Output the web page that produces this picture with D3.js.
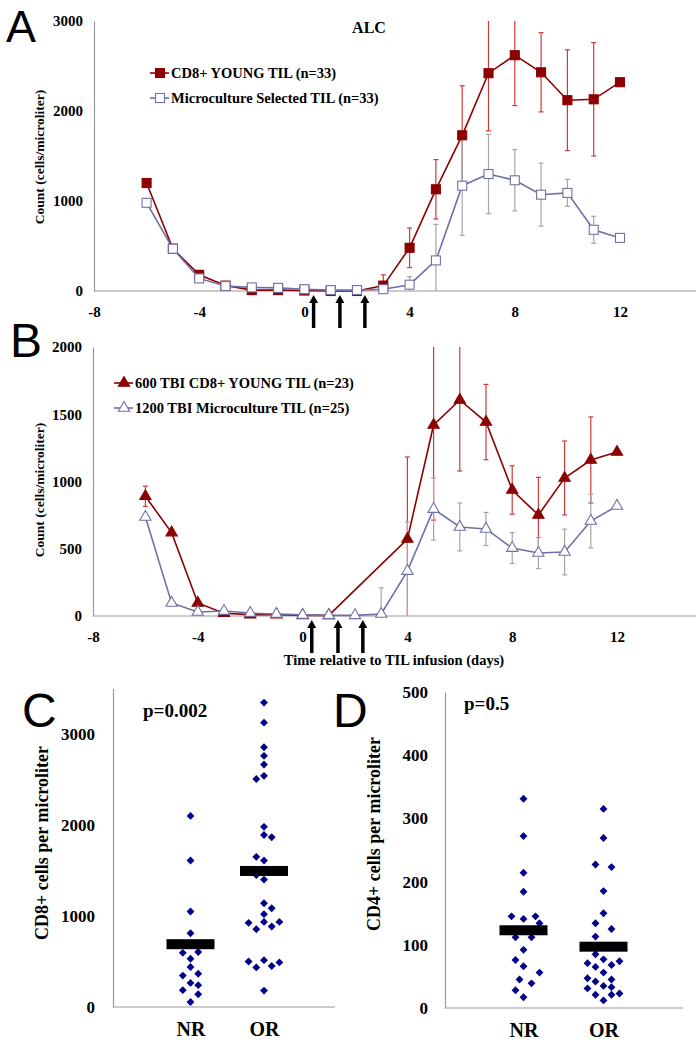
<!DOCTYPE html>
<html><head><meta charset="utf-8">
<script src="https://cdn.jsdelivr.net/npm/d3@7"></script>
<style>
html,body{margin:0;padding:0;background:#fff;}
svg{display:block;}
text{font-family:"Liberation Serif","Times New Roman",serif;font-weight:bold;fill:#000;}
.big{font-family:"Liberation Sans",Arial,sans-serif;font-weight:normal;}
</style></head>
<body>
<svg id="c" width="696" height="1050"></svg>
<script>
// ---------- DATA ----------
const daysAll = [-6,-5,-4,-3,-2,-1,0,1,2,3,4,5,6,7,8,9,10,11,12];
const xTicks = [-8,-4,0,4,8,12];
const arrowDays = [0.35,1.35,2.3];

// Panel A
const aRedLabel = "CD8+ YOUNG TIL (n=33)";
const aBlueLabel = "Microculture Selected TIL (n=33)";
const aRed    = [1200,470,180,60,10,10,5,0,0,60,480,1130,1730,2420,2620,2430,2120,2130,2320];
const aRedErr = [0,0,0,0,0,0,0,0,0,120,220,330,550,640,560,440,560,630,0];
const aBlue    = [980,470,140,55,40,35,20,10,10,20,70,340,1170,1300,1230,1070,1090,680,590];
const aBlueErr = [0,0,0,0,0,0,0,0,0,0,90,400,550,440,340,350,150,150,0];
const aYTicks = [0,1000,2000,3000];

// Panel B
const bRedLabel = "600 TBI CD8+ YOUNG TIL (n=23)";
const bBlueLabel = "1200 TBI Microculture TIL (n=25)";
const bRedDays = [-6,-5,-4,-3,-2,-1,0,1,4,5,6,7,8,9,10,11,12];
const bRed     = [890,620,97,20,10,10,5,5,572,1420,1606,1442,937,751,1026,1160,1219];
const bRedErr  = [75,0,0,0,0,0,0,0,610,707,528,280,180,280,275,320,0];
const bBlue    = [736,97,30,37,22,15,8,5,5,15,334,795,662,647,505,468,476,706,818];
const bBlueErr = [0,0,0,0,0,0,0,0,0,195,365,230,178,123,115,115,170,200,0];
const bYTicks = [0,500,1000,1500,2000];

// Panel C (CD8+ cells) value, dodge slot
const groups = ["NR","OR"];
const cNR     = [2100,1610,1050,810,595,605,530,440,365,345,265,240,185,140,55];
const cNRslot = [0,0,0,0,-1,1,0,0,1,-1,0,1,-1,1,0];
const cOR     = [3345,3125,2855,2760,2665,2505,2540,1980,1890,1865,1650,1610,1450,1400,1140,1085,1020,925,855,935,885,935,500,435,515,450,490,180];
const cORslot = [0,0,0,0,0,-1,0,0,0,1,-1,0,-1,0,0,1,0,-2,-1,0,1,2,-2,-1,0,1,2,0];
const cMedian = [690,1495];
const cYTicks = [0,1000,2000,3000];
const cP = "p=0.002";

// Panel D (CD4+ cells)
const dNR     = [331,272,214,184,145,141,145,134,112,112,92,76,66,56,45,39,28,17];
const dNRslot = [0,0,0,0,-1.5,0,1.5,2,-1,1,0,-1,0,2,-0.5,1,-1,0];
const dOR     = [315,269,227,223,185,150,134,125,113,85,77,71,68,74,65,56,47,45,42,35,31,33,21,23,21,12];
const dORslot = [0,0,-1,1,0,0,-1,1,-1,-1,0,-2,1,2,-1,0,-2,1,-1,0,-2,1,-1,2,1,0];
const dMedian = [123,97];
const dYTicks = [0,100,200,300,400,500];
const dP = "p=0.5";

// ---------- STYLE ----------
const RED = "#8b0000", RED_ERR = "#cc3a3a", BLUE = "#7070a8", GRAY_ERR = "#a6a6a6", AXIS = "#9a9a9a", NAVY = "#000088";
const fmt = d => String(d);

const svg = d3.select("#c");

function styleAxis(g, fs){
  g.select(".domain").attr("stroke", AXIS).attr("stroke-width",1.2);
  g.selectAll("text").style("font-size", fs+"px").style("font-family",'"Liberation Serif","Times New Roman",serif').style("font-weight","bold").attr("fill","#000");
}

function lineChart(opt){
  const x = d3.scaleLinear().domain([-8,15]).range([opt.left, opt.left + 23*opt.ux]);
  const y = d3.scaleLinear().domain([0, opt.ymax]).range([opt.y0, opt.ytop]);
  const g = svg.append("g");
  const ya = g.append("g").attr("transform",`translate(${x(-8)},0)`)
    .call(d3.axisLeft(y).tickValues(opt.yticks).tickSize(0).tickPadding(11).tickFormat(fmt));
  styleAxis(ya,15);
  const xa = g.append("g").attr("transform",`translate(0,${y(0)})`)
    .call(d3.axisBottom(x).tickValues(xTicks).tickSize(0).tickPadding(15).tickFormat(fmt));
  styleAxis(xa,15);
  xa.select(".domain").attr("d",`M${x(-8)},0H696`);

  function errs(days, vals, es, color){
    days.forEach((d,i)=>{
      const e = es[i]; if(!e) return;
      const hiV = vals[i]+e, loV = vals[i]-e;
      const hi = y(Math.min(hiV, opt.ymax)), lo = y(Math.max(loV,0));
      g.append("line").attr("x1",x(d)).attr("x2",x(d)).attr("y1",hi).attr("y2",lo).attr("stroke",color).attr("stroke-width",1.2);
      if(hiV<=opt.ymax) g.append("line").attr("x1",x(d)-2.5).attr("x2",x(d)+2.5).attr("y1",hi).attr("y2",hi).attr("stroke",color).attr("stroke-width",1.2);
      if(loV>=0) g.append("line").attr("x1",x(d)-2.5).attr("x2",x(d)+2.5).attr("y1",lo).attr("y2",lo).attr("stroke",color).attr("stroke-width",1.2);
    });
  }
  errs(opt.redDays, opt.red, opt.redErr, RED_ERR);
  errs(daysAll, opt.blue, opt.blueErr, GRAY_ERR);

  const line = d3.line().x(d=>x(d[0])).y(d=>y(d[1]));
  const redPts = opt.redDays.map((d,i)=>[d,opt.red[i]]);
  const bluePts = daysAll.map((d,i)=>[d,opt.blue[i]]);
  g.append("path").attr("d",line(redPts)).attr("fill","none").attr("stroke",RED).attr("stroke-width",1.6);
  opt.marker(g, redPts.map(p=>[x(p[0]),y(p[1])]), true);
  g.append("path").attr("d",line(bluePts)).attr("fill","none").attr("stroke",BLUE).attr("stroke-width",1.6);
  opt.marker(g, bluePts.map(p=>[x(p[0]),y(p[1])]), false);

  // arrows
  arrowDays.forEach(d=>{
    const ax = x(d), ty = y(0)+4;
    g.append("line").attr("x1",ax).attr("x2",ax).attr("y1",ty+6).attr("y2",ty+33).attr("stroke","#000").attr("stroke-width",3.5);
    g.append("path").attr("d",`M${ax},${ty}L${ax-4.5},${ty+8}L${ax+4.5},${ty+8}Z`).attr("fill","#000");
  });

  // legend
  [[opt.redLabel,true,opt.legY],[opt.blueLabel,false,opt.legY+25]].forEach(([lab,isRed,ly])=>{
    g.append("line").attr("x1",opt.legX).attr("x2",opt.legX+19).attr("y1",ly).attr("y2",ly).attr("stroke",isRed?RED:BLUE).attr("stroke-width",1.6);
    opt.marker(g, [[opt.legX+10, ly]], isRed);
    g.append("text").attr("x",opt.legX+21).attr("y",ly+5).style("font-size","14.5px").text(lab);
  });
  g.append("text").attr("transform",`translate(${opt.ylabX},${opt.ylabY}) rotate(-90)`).attr("text-anchor","middle").style("font-size","13.5px").text("Count (cells/microliter)");
  return {x,y};
}

function squares(g, pts, filled){
  g.selectAll(null).data(pts).enter().append("rect")
    .attr("x",d=>d[0]-4.5).attr("y",d=>d[1]-4.5).attr("width",9).attr("height",9)
    .attr("fill",filled?RED:"#fff").attr("stroke",filled?RED:BLUE).attr("stroke-width",1.1);
}
function triangles(g, pts, filled){
  const sym = d3.symbol().type(d3.symbolTriangle).size(55);
  g.selectAll(null).data(pts).enter().append("path")
    .attr("d",sym).attr("transform",d=>`translate(${d[0]},${d[1]})`)
    .attr("fill",filled?RED:"#fff").attr("stroke",filled?RED:BLUE).attr("stroke-width",1.1);
}

lineChart({left:94, ux:26.3, y0:291, ytop:21, ymax:3000, yticks:aYTicks,
  redDays:daysAll, red:aRed, redErr:aRedErr, blue:aBlue, blueErr:aBlueErr,
  marker:squares, redLabel:aRedLabel, blueLabel:aBlueLabel, legX:150, legY:73, ylabX:44, ylabY:157});

lineChart({left:93, ux:26.2, y0:616, ytop:347, ymax:2000, yticks:bYTicks,
  redDays:bRedDays, red:bRed, redErr:bRedErr, blue:bBlue, blueErr:bBlueErr,
  marker:triangles, redLabel:bRedLabel, blueLabel:bBlueLabel, legX:114, legY:383, ylabX:44, ylabY:490});

svg.append("text").attr("x",369).attr("y",33).attr("text-anchor","middle").style("font-size","16px").text("ALC");
svg.append("text").attr("x",394).attr("y",665).attr("text-anchor","middle").style("font-size","14.5px").text("Time relative to TIL infusion (days)");

// ---------- Scatter panels ----------
function scatter(opt){
  const x = d3.scalePoint().domain(groups).range(opt.xr);
  const y = d3.scaleLinear().domain([0,opt.ymax]).range([opt.y0,opt.ytop]);
  const g = svg.append("g");
  const ya = g.append("g").attr("transform",`translate(${opt.axL},0)`)
    .call(d3.axisLeft(y).tickValues(opt.yticks).tickSize(0).tickPadding(opt.pad).tickFormat(fmt));
  styleAxis(ya,17);
  const xa = g.append("g").attr("transform",`translate(0,${y(0)})`)
    .call(d3.axisBottom(x).tickSize(0).tickPadding(15));
  styleAxis(xa,20);
  xa.select(".domain").attr("d",`M${opt.axL},0H${opt.axR}`);
  const sym = d3.symbol().type(d3.symbolSquare).size(31);
  [[opt.nr,opt.nrSlot,"NR"],[opt.or,opt.orSlot,"OR"]].forEach(([vals,slots,grp])=>{
    g.selectAll(null).data(vals.map((v,i)=>[v,slots[i]])).enter().append("path")
      .attr("d",sym).attr("fill",NAVY)
      .attr("transform",d=>`translate(${x(grp)+d[1]*opt.step},${y(d[0])}) rotate(45)`);
  });
  groups.forEach((grp,i)=>{
    g.append("rect").attr("x",x(grp)-24).attr("width",48).attr("y",y(opt.median[i])-5).attr("height",10).attr("fill","#000");
  });
  g.append("text").attr("x",opt.pX).attr("y",opt.pY).style("font-size","19px").text(opt.p);
  g.append("text").attr("transform",`translate(${opt.labX},${opt.labY}) rotate(-90)`).attr("text-anchor","middle").style("font-size","18px").text(opt.label);
}

scatter({xr:[190.5,264], y0:1007, ytop:688.5, ymax:3500, yticks:cYTicks, axL:113, axR:335, pad:18, step:7.7,
  nr:cNR, nrSlot:cNRslot, or:cOR, orSlot:cORslot, median:cMedian, p:cP, pX:143, pY:717,
  label:"CD8+ cells per microliter", labX:48, labY:843});
scatter({xr:[523.5,603.5], y0:1008, ytop:692, ymax:500, yticks:dYTicks, axL:445, axR:683, pad:17, step:8,
  nr:dNR, nrSlot:dNRslot, or:dOR, orSlot:dORslot, median:dMedian, p:dP, pX:464, pY:710,
  label:"CD4+ cells per microliter", labX:380, labY:834});

// panel letters
[["A",6,42],["B",10,357],["C",22,727],["D",333,727]].forEach(([t,x,y])=>{
  svg.append("text").attr("class","big").attr("x",x).attr("y",y).style("font-size",(t==="A"?45:48)+"px").text(t);
});
</script>
</body></html>
